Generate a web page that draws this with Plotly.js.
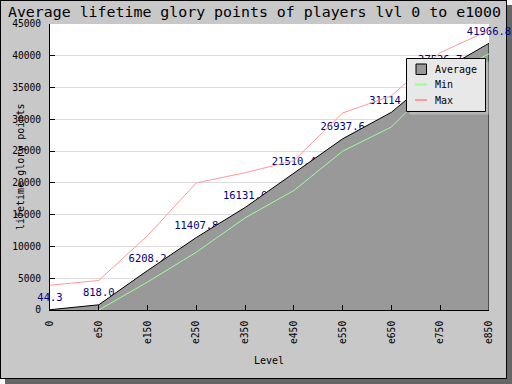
<!DOCTYPE html>
<html>
<head>
<meta charset="utf-8">
<script src="https://cdn.plot.ly/plotly-3.0.1.min.js"></script>
<style>
  html, body { margin: 0; padding: 0; background: #ffffff; }
  #frame { position: absolute; left: 0; top: 0; width: 505px; height: 377px;
           background: #c8c8c8; border: 1px solid #000; box-shadow: 5px 5px 0 0 #666666; }
  #chart { position: absolute; left: 0; top: 0; width: 512px; height: 384px; }
</style>
</head>
<body>
<div id="frame"></div>
<div id="chart"></div>
<script>
const categories = ['0', 'e50', 'e150', 'e250', 'e350', 'e450', 'e550', 'e650', 'e750', 'e850'];
const avgValues = [44.3, 818.0, 6208.2, 11407.8, 16131.0, 21510.4, 26937.6, 31114.2, 37526.7, 41966.8];
const minValues = [null, 0, 4400, 9100, 14500, 18800, 25000, 28800, 36500, 40300];
const maxValues = [3900, 4650, 11700, 20000, 21600, 23500, 31000, 33700, 40500, 44000];
const seriesNames = ['Average', 'Min', 'Max'];
const chartTitle = 'Average lifetime glory points of players lvl 0 to e1000';
const xTitle = 'Level';
const yTitle = 'lifetime glory points';

const MONO = 'DejaVu Sans Mono, monospace';
const AVG_FILL = '#999999', MIN_COLOR = '#99ff99', MAX_COLOR = '#ff9999';

// plot area in pixels
const L = 50, R = 489, T = 24, B = 310;
const px = p => (p - L) / (R - L);
const py = p => (B - p) / (B - T);

const labelTrace = {
  x: categories, y: avgValues, type: 'scatter', mode: 'markers+text',
  text: avgValues.map(v => v.toFixed(1)), textposition: 'top center',
  textfont: {family: MONO, size: 10.5, color: '#000080'},
  marker: {size: 8, opacity: 0}, cliponaxis: false, showlegend: false, hoverinfo: 'skip'
};
const avgTrace = {
  x: categories, y: avgValues, type: 'scatter', mode: 'lines', name: seriesNames[0],
  fill: 'tozeroy', fillcolor: AVG_FILL, line: {color: '#000000', width: 1}
};
const last = categories.length - 1;
const edgeTrace = {
  x: [categories[last], categories[last]], y: [avgValues[last], 0], type: 'scatter', mode: 'lines',
  line: {color: '#000000', width: 1}, showlegend: false, hoverinfo: 'skip', cliponaxis: false
};
const minTrace = {
  x: categories, y: minValues, type: 'scatter', mode: 'lines', name: seriesNames[1],
  line: {color: MIN_COLOR, width: 1}
};
const maxTrace = {
  x: categories, y: maxValues, type: 'scatter', mode: 'lines', name: seriesNames[2],
  line: {color: MAX_COLOR, width: 1}
};

// custom legend (box + shadow + symbols)
const lgL = 406.5, lgR = 485.5, lgT = 58.5, lgB = 111.5;
const rowY = [69.5, 84.5, 100];
const shapes = [
  {type: 'rect', xref: 'paper', yref: 'paper', x0: px(lgL + 3), x1: px(lgR + 3), y0: py(lgT + 3), y1: py(lgB + 3),
   fillcolor: '#b8b8b8', line: {width: 0}, layer: 'above'},
  {type: 'rect', xref: 'paper', yref: 'paper', x0: px(lgL), x1: px(lgR), y0: py(lgT), y1: py(lgB),
   fillcolor: '#e8e8e8', line: {color: '#000000', width: 1}, layer: 'above'},
  {type: 'rect', xref: 'paper', yref: 'paper', x0: px(416), x1: px(426.5), y0: py(rowY[0] - 5.5), y1: py(rowY[0] + 5),
   fillcolor: AVG_FILL, line: {color: '#000000', width: 1}, layer: 'above'},
  {type: 'line', xref: 'paper', yref: 'paper', x0: px(415), x1: px(427), y0: py(rowY[1]), y1: py(rowY[1]),
   line: {color: MIN_COLOR, width: 2}, layer: 'above'},
  {type: 'line', xref: 'paper', yref: 'paper', x0: px(415), x1: px(427), y0: py(rowY[2]), y1: py(rowY[2]),
   line: {color: MAX_COLOR, width: 2}, layer: 'above'}
];
const annotations = seriesNames.map((n, i) => ({
  xref: 'paper', yref: 'paper', x: px(433), y: py(rowY[i]), xanchor: 'left', yanchor: 'middle',
  text: n, showarrow: false, font: {family: MONO, size: 10, color: '#000000'}
}));
annotations.push({
  xref: 'paper', yref: 'paper', x: px(20), y: py(167), xanchor: 'center', yanchor: 'middle',
  text: yTitle, textangle: -90, showarrow: false, font: {family: MONO, size: 10, color: '#000000'}
});
annotations.push({
  xref: 'paper', yref: 'paper', x: px(268.5), y: py(360), xanchor: 'center', yanchor: 'middle',
  text: xTitle, showarrow: false, font: {family: MONO, size: 10, color: '#000000'}
});

const layout = {
  width: 512, height: 384,
  margin: {l: L, r: 512 - R, t: T, b: 384 - B, pad: 0},
  paper_bgcolor: 'rgba(0,0,0,0)', plot_bgcolor: '#ffffff',
  showlegend: false,
  title: {text: chartTitle, font: {family: MONO, size: 14.9, color: '#000000'},
          xref: 'container', x: 0.497, xanchor: 'center', yref: 'container', y: 1 - 11.8 / 384, yanchor: 'middle'},
  xaxis: {type: 'category', range: [0, last], showline: true, linecolor: '#000000', linewidth: 1,
          ticks: 'inside', ticklen: 5, tickcolor: '#000000', tickangle: -90, showgrid: false, zeroline: false,
          tickfont: {family: MONO, size: 9.6, color: '#000000'}, ticklabelstandoff: 6},
  yaxis: {range: [0, 45000], dtick: 5000, tickformat: 'd', showline: true, linecolor: '#000000', linewidth: 1,
          ticks: 'inside', ticklen: 5, tickcolor: '#000000', showgrid: true, gridcolor: '#dcdcdc', gridwidth: 1,
          zeroline: false, tickfont: {family: MONO, size: 9.6, color: '#000000'}, ticklabelstandoff: 6},
  shapes: shapes, annotations: annotations
};

Plotly.newPlot('chart', [labelTrace, avgTrace, edgeTrace, minTrace, maxTrace], layout, {staticPlot: true});
</script>
</body>
</html>
